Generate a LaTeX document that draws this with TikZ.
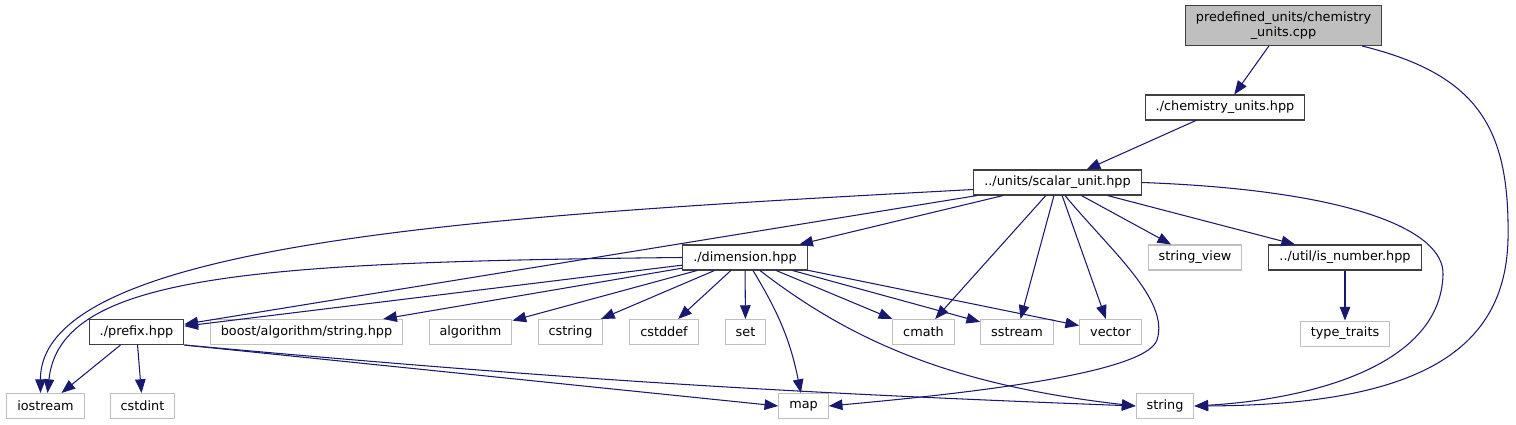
\documentclass[tikz,border=0pt]{standalone}
\usepackage{fontspec}
\setmainfont{DejaVu Sans}
\usepackage{xcolor}
\usetikzlibrary{arrows.meta,positioning}

\definecolor{edgeblue}{HTML}{191970}
\definecolor{boxgray}{HTML}{BFBFBF}
\definecolor{boxdark}{HTML}{404040}

\begin{document}
\begin{tikzpicture}[x=0.02cm, y=-0.02cm, node distance=1cm,
  every node/.style={draw, minimum height=0.5cm, inner xsep=0.21cm, inner ysep=0pt, line width=0.6pt, font=\fontsize{7.3}{8.6}\selectfont},
  srcfile/.style={draw=boxdark},
  extfile/.style={draw=boxgray},
  rootfile/.style={draw=boxdark, fill=boxgray, minimum height=0.8cm, align=center},
  inc/.style={draw=edgeblue, line width=0.6pt},
  ->, >={Triangle[length=7.8pt, width=6pt]}]
\useasboundingbox (0,0) rectangle (1516,425);

% files of the project
\node[rootfile] (cpp) at (1283.5,25.5) {predefined\_units/chemistry\\\_units.cpp};
\node[srcfile] (chem) at (1225,107.5) {./chemistry\_units.hpp};
\node[srcfile] (scalar) at (1057.5,182.5) {../units/scalar\_unit.hpp};
\node[srcfile] (dim) at (745,257.5) {./dimension.hpp};
\node[srcfile] (isnum) at (1345,257.5) {../util/is\_number.hpp};
\node[srcfile] (prefix) at (136.5,332) {./prefix.hpp};

% system headers
\node[extfile] (strview) at (1195,257.5) {string\_view};
\node[extfile] (typetr) [below=of isnum] {type\_traits};
\node[extfile] (boost) at (306.5,332) {boost/algorithm/string.hpp};
\node[extfile] (algo) at (470.5,332) {algorithm};
\node[extfile] (cstring) at (570.5,332) {cstring};
\node[extfile] (cstddef) at (664,332) {cstddef};
\node[extfile] (set) at (745.5,332) {set};
\node[extfile] (cmath) at (923.5,332) {cmath};
\node[extfile] (sstream) at (1017,332) {sstream};
\node[extfile] (vector) at (1110.5,332) {vector};
\node[extfile] (iostream) at (45.5,406) {iostream};
\node[extfile] (cstdint) at (142.5,406) {cstdint};
\node[extfile] (map) at (803.5,406) {map};
\node[extfile] (string) at (1165,406) {string};

% chemistry_units.cpp
\draw[inc] (cpp) -- (chem);
\draw[inc] ([xshift=-0.4cm]cpp.south east) .. controls (1480,75) and (1510,130) .. (1508,240) .. controls (1505,350) and (1420,405) .. (string.east);
\draw[inc] (chem) -- (scalar);

% scalar_unit.hpp
\draw[inc] ([yshift=-0.14cm]scalar.west) .. controls (500,215) and (40,240) .. ([xshift=-0.1cm]iostream.north);
\draw[inc] (scalar) -- (prefix);
\draw[inc] (scalar) -- (dim);
\draw[inc] (scalar) -- (cmath);
\draw[inc] (scalar) -- (sstream);
\draw[inc] (scalar) -- (vector);
\draw[inc] ([xshift=0.15cm]scalar.south) .. controls (1110,250) and (1170,300) .. (1157,340) .. controls (1145,375) and (950,395) .. (map.east);
\draw[inc] (scalar) -- (strview);
\draw[inc] (scalar) -- (isnum);
\draw[inc] (scalar.east) .. controls (1350,190) and (1445,230) .. (1443,275) .. controls (1440,370) and (1300,400) .. (string.east);

% dimension.hpp
\draw[inc] (dim.west) .. controls (250,262) and (60,275) .. ([xshift=0.04cm]iostream.north);
\draw[inc] (dim) -- (prefix);
\draw[inc] (dim) -- (boost);
\draw[inc] (dim) -- (algo);
\draw[inc] (dim) -- (cstring);
\draw[inc] (dim) -- (cstddef);
\draw[inc] (dim) -- (set);
\draw[inc] (dim) to[bend left=10] (map);
\draw[inc] ([xshift=0.3cm]dim.south) .. controls (850,340) and (950,385) .. (string.west);
\draw[inc] (dim) -- (cmath);
\draw[inc] (dim) -- (sstream);
\draw[inc] (dim) -- (vector);

% prefix.hpp and is_number.hpp
\draw[inc] (prefix) -- (iostream);
\draw[inc] (prefix) -- (cstdint);
\draw[inc] (prefix.south east) -- (map.west);
\draw[inc] (prefix.south east) to[bend right=1.5] (string.west);
\draw[inc] (isnum) -- (typetr);
\end{tikzpicture}
\end{document}
